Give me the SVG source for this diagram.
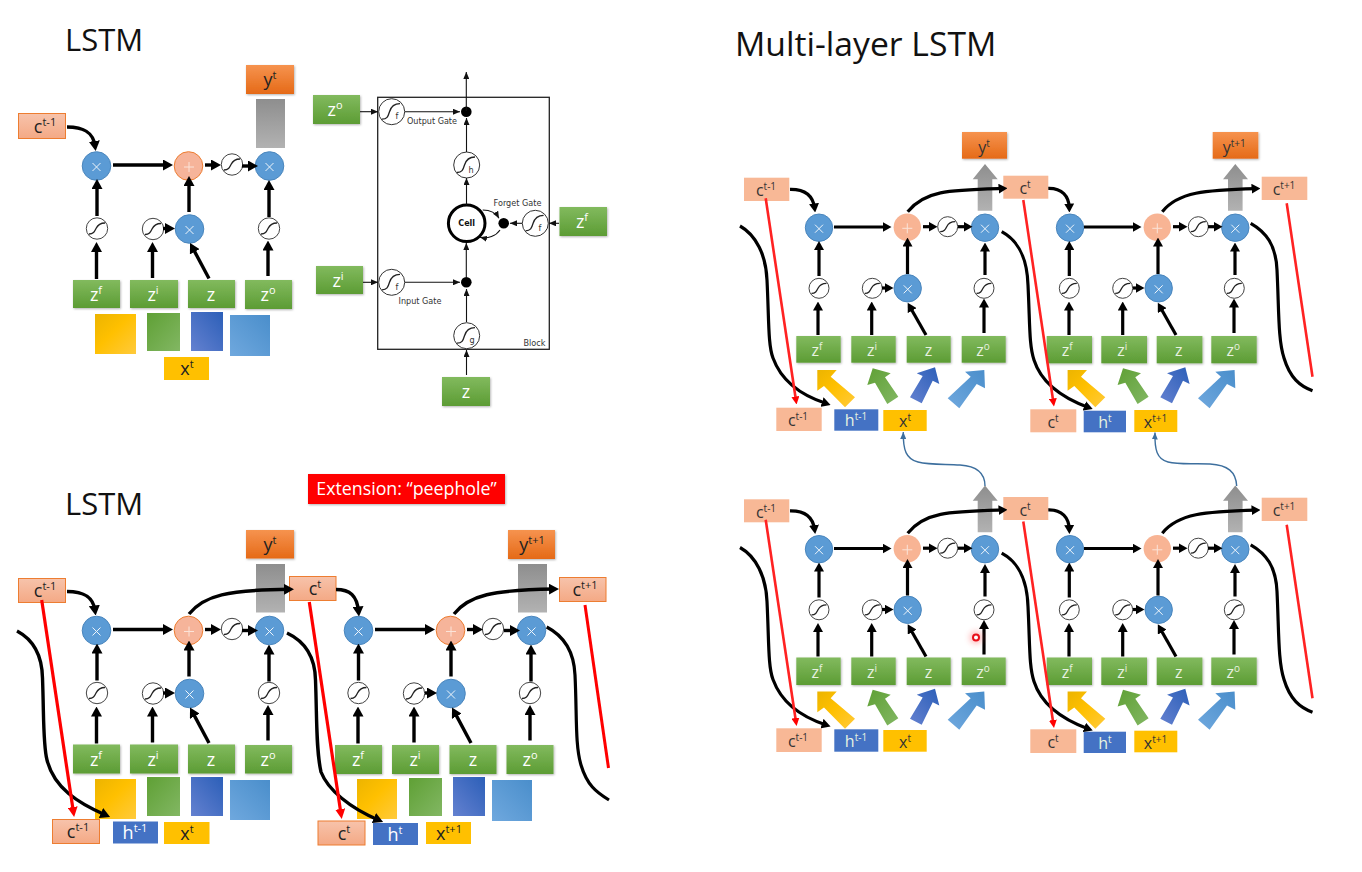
<svg xmlns="http://www.w3.org/2000/svg" width="1362" height="872" viewBox="0 0 1362 872">
<style>
text{font-family:"Open Sans","Liberation Sans",sans-serif;text-anchor:middle}
.title{font-size:31px;fill:#111;text-anchor:start}
.d{font-size:18px;fill:#222}.w{font-size:18px;fill:#fff}
.r{font-size:16px;fill:#333}.rw{font-size:16px;fill:#e8f2e0}
.s{font-size:11px}.s2{font-size:10px}
.g{fill:url(#gG);filter:url(#sh)}.y{fill:url(#gO);filter:url(#sh)}
.c{fill:url(#gC);stroke:#ed7d31;stroke-width:1}.c2{fill:#f8b896}
.gr{fill:url(#gR)}.yl{fill:#ffc000}.h{fill:#4472c4}
.bl{fill:#5b9bd5;stroke:#4a86bd;stroke-width:1}.pl{fill:#f6b49a;stroke:#ed7d31;stroke-width:1}.pl2{fill:#f8b494}
.sg{fill:#fff;stroke:#444;stroke-width:1}
.sc{fill:none;stroke:#222;stroke-width:1.3}
.g1{fill:url(#g1)}.g2{fill:url(#g2)}.g3{fill:url(#g3)}.g4{fill:url(#g4)}
.a{fill:none;stroke:#000;stroke-width:3.4;marker-end:url(#h)}
.a2{fill:none;stroke:#000;stroke-width:3.2;marker-end:url(#h2)}
.sl{fill:none;stroke:#000;stroke-width:3.2}
.re{fill:none;stroke:#f00;stroke-width:3.2;marker-end:url(#hr)}
.re2{fill:none;stroke:#f22;stroke-width:2.6;marker-end:url(#hr2)}
.ren{fill:none;stroke:#f00;stroke-width:3}
.t{fill:none;stroke:#111;stroke-width:1.1;marker-end:url(#ht)}
.bu{fill:none;stroke:#3d6f9e;stroke-width:1.4;marker-end:url(#hb)}
.lb{font-family:"DejaVu Sans",sans-serif;font-size:8.1px;fill:#333}
</style>
<defs>
<marker id="h" markerUnits="userSpaceOnUse" viewBox="0 0 10 10" markerWidth="10" markerHeight="11" refX="5" refY="5" orient="auto" preserveAspectRatio="none"><path d="M0 0L10 5L0 10z"/></marker>
<marker id="h2" markerUnits="userSpaceOnUse" viewBox="0 0 10 10" markerWidth="9" markerHeight="10" refX="5" refY="5" orient="auto" preserveAspectRatio="none"><path d="M0 0L10 5L0 10z"/></marker>
<marker id="hr" markerUnits="userSpaceOnUse" viewBox="0 0 10 10" markerWidth="10" markerHeight="10" refX="5" refY="5" orient="auto" preserveAspectRatio="none"><path d="M0 0L10 5L0 10z" fill="#f00"/></marker>
<marker id="hr2" markerUnits="userSpaceOnUse" viewBox="0 0 10 10" markerWidth="8" markerHeight="8" refX="5" refY="5" orient="auto" preserveAspectRatio="none"><path d="M0 0L10 5L0 10z" fill="#f00"/></marker>
<marker id="ht" markerUnits="userSpaceOnUse" viewBox="0 0 10 10" markerWidth="7" markerHeight="6" refX="10" refY="5" orient="auto" preserveAspectRatio="none"><path d="M0 0L10 5L0 10z" fill="#111"/></marker>
<marker id="hb" markerUnits="userSpaceOnUse" viewBox="0 0 10 10" markerWidth="7" markerHeight="6" refX="10" refY="5" orient="auto" preserveAspectRatio="none"><path d="M0 0L10 5L0 10z" fill="#3d6f9e"/></marker>
<linearGradient id="gG" x1="0" y1="0" x2="0" y2="1"><stop offset="0" stop-color="#82ba5e"/><stop offset="1" stop-color="#5c9c34"/></linearGradient>
<linearGradient id="gO" x1="0" y1="0" x2="0" y2="1"><stop offset="0" stop-color="#f6934f"/><stop offset="1" stop-color="#e56a17"/></linearGradient>
<linearGradient id="gC" x1="0" y1="0" x2="0" y2="1"><stop offset="0" stop-color="#f7c3ab"/><stop offset="1" stop-color="#f4a985"/></linearGradient>
<linearGradient id="gR" x1="0" y1="0" x2="0" y2="1"><stop offset="0" stop-color="#8e8e8e"/><stop offset="1" stop-color="#b2b2b2"/></linearGradient>
<linearGradient id="g1" x1="0" y1="0" x2="1" y2="1"><stop offset="0" stop-color="#ecb400"/><stop offset=".45" stop-color="#ffc000"/><stop offset="1" stop-color="#ffca3c"/></linearGradient>
<linearGradient id="g2" x1="0" y1="0" x2="1" y2="1"><stop offset="0" stop-color="#5fa035"/><stop offset="1" stop-color="#82b763"/></linearGradient>
<linearGradient id="g3" x1="1" y1="0" x2="0" y2="1"><stop offset="0" stop-color="#2c5fb8"/><stop offset="1" stop-color="#6481d0"/></linearGradient>
<linearGradient id="g4" x1="1" y1="0" x2="0" y2="1"><stop offset="0" stop-color="#4a8ecb"/><stop offset="1" stop-color="#6fa8de"/></linearGradient>
<filter id="sh" x="-10%" y="-10%" width="125%" height="130%"><feDropShadow dx=".8" dy="1" stdDeviation=".9" flood-color="#000" flood-opacity=".3"/></filter>
<filter id="gl" x="-100%" y="-100%" width="300%" height="300%"><feGaussianBlur stdDeviation="3"/></filter>
<path id="sig" d="M-8 5.500C-3.500 5.500-2.500 3-1 0C.5-3 2.500-5.500 8-5.500" class="sc"/>
<path id="sig2" d="M-7.500 5C-3.500 5-2.500 3-1 0C.5-3 2.500-5 7.500-5" class="sc"/>
<path id="x" d="M-4-4L4 4M4-4L-4 4" fill="none" stroke="#eef5fb" stroke-width="1"/>
<path id="p" d="M-5 0H5M0-5V5" fill="none" stroke="#fbe3d8" stroke-width="1"/>
<path id="bs" d="M-8.500 7.500C-3.500 7.500-2.500 5-1 0C.5-5 3-8 9.500-8" fill="none" stroke="#222" stroke-width="1.300"/>
</defs>
<rect width="1362" height="872" fill="#fff"/>

<text id="title-1" class="title" x="65" y="51">LSTM</text>
<text id="title-2" class="title" x="65" y="515">LSTM</text>
<text id="title-3" class="title" x="735" y="56" style="font-size:33.7px">Multi-layer LSTM</text>
<g id="ext"><rect x="308" y="474" width="197" height="30" fill="#f00" filter="url(#sh)"/><text x="406.5" y="495" style="font-size:17.8px" fill="#fff">Extension: “peephole”</text></g>

<g id="block-1">
<g id="a-y"><rect class="y" x="246" y="65" width="48" height="29"/><text class="d" x="270" y="86">y<tspan class="s" dy="-7">t</tspan></text></g>
<rect id="a-gray" class="gr" x="256" y="99" width="29" height="49"/>
<g id="a-c"><rect class="c" x="18.500" y="113.500" width="47" height="25"/><text class="d" x="45" y="132.500">c<tspan class="s" dy="-7">t-1</tspan></text></g>
<g id="a-m1"><circle class="bl" cx="96.500" cy="166" r="14.300"/><use href="#x" x="96.500" y="167"/></g>
<g id="a-p"><circle class="pl" cx="188.500" cy="166" r="14.300"/><use href="#p" x="189" y="167"/></g>
<g id="a-s1"><circle class="sg" cx="232" cy="164.500" r="10.700"/><use href="#sig" x="232" y="164.500"/></g>
<g id="a-m2"><circle class="bl" cx="269.500" cy="166" r="14.300"/><use href="#x" x="269.500" y="167"/></g>
<g id="a-s2"><circle class="sg" cx="97" cy="228.500" r="10.700"/><use href="#sig" x="97" y="228.500"/></g>
<g id="a-s3"><circle class="sg" cx="153" cy="229" r="10.700"/><use href="#sig" x="153" y="229"/></g>
<g id="a-m3"><circle class="bl" cx="189.500" cy="229" r="14.300"/><use href="#x" x="189.500" y="230"/></g>
<g id="a-s4"><circle class="sg" cx="269" cy="228.500" r="10.700"/><use href="#sig" x="269" y="228.500"/></g>
<g id="a-zf"><rect class="g" x="73" y="280" width="47" height="28"/><text class="w" x="96" y="301">z<tspan class="s" dy="-7">f</tspan></text></g>
<g id="a-zi"><rect class="g" x="130" y="280" width="48" height="28"/><text class="w" x="153" y="301">z<tspan class="s" dy="-7">i</tspan></text></g>
<g id="a-z"><rect class="g" x="188" y="280" width="47" height="28"/><text class="w" x="211" y="301">z</text></g>
<g id="a-zo"><rect class="g" x="245" y="280" width="47" height="29"/><text class="w" x="268" y="301">z<tspan class="s" dy="-7">o</tspan></text></g>
<rect class="g1" x="95" y="314" width="41" height="40"/><rect class="g2" x="147" y="313" width="33" height="38"/><rect class="g3" x="191" y="312" width="32" height="39"/><rect class="g4" x="230" y="315" width="40" height="41"/>
<g id="a-x"><rect class="yl" x="164" y="357" width="45" height="23"/><text class="d" x="187" y="375" fill="#111">x<tspan class="s" dy="-7">t</tspan></text></g>
</g>

<g id="gate-block">
<rect x="377.700" y="97.300" width="171.600" height="252" fill="#fff" stroke="#222" stroke-width="1.300"/>
<g id="b-zo"><rect class="g" x="313" y="95" width="47" height="29"/><text class="w" x="335" y="116">z<tspan class="s" dy="-7">o</tspan></text></g>
<g id="b-zi"><rect class="g" x="316" y="266" width="47" height="28"/><text class="w" x="338" y="287">z<tspan class="s" dy="-7">i</tspan></text></g>
<g id="b-zf"><rect class="g" x="559.500" y="207" width="47.500" height="29"/><text class="w" x="582" y="228">z<tspan class="s" dy="-7">f</tspan></text></g>
<g id="b-z"><rect class="g" x="442" y="377" width="48" height="29"/><text class="w" x="466" y="398">z</text></g>
<g id="b-f1"><circle cx="391.700" cy="111.700" r="13" fill="#fff" stroke="#333" stroke-width="1"/><use href="#bs" x="390.500" y="111.700"/><text class="lb" x="397" y="119">f</text></g>
<g id="b-f2"><circle cx="391.700" cy="282.300" r="13" fill="#fff" stroke="#333" stroke-width="1"/><use href="#bs" x="390.500" y="282.300"/><text class="lb" x="397" y="290">f</text></g>
<g id="b-h"><circle cx="466.700" cy="165" r="13" fill="#fff" stroke="#333" stroke-width="1"/><use href="#bs" x="465.500" y="165"/><text class="lb" x="471" y="173">h</text></g>
<g id="b-g"><circle cx="466.700" cy="335.700" r="13" fill="#fff" stroke="#333" stroke-width="1"/><use href="#bs" x="465.500" y="335.700"/><text class="lb" x="472" y="343">g</text></g>
<g id="b-f3"><circle cx="535.300" cy="223.300" r="13" fill="#fff" stroke="#333" stroke-width="1"/><use href="#bs" x="534.100" y="223.300"/><text class="lb" x="540" y="231">f</text></g>
<g id="b-cell"><circle cx="466.700" cy="223.300" r="18.300" fill="#fff" stroke="#000" stroke-width="3"/><text class="lb" x="466.700" y="226" style="font-weight:bold;font-size:8px;fill:#111">Cell</text></g>
<circle id="b-d1" cx="466.300" cy="111.700" r="5.300" fill="#000"/>
<circle id="b-d2" cx="466.300" cy="282.300" r="5.300" fill="#000"/>
<circle id="b-d3" cx="503.700" cy="223.300" r="5.300" fill="#000"/>
<text class="lb" x="432" y="124">Output Gate</text>
<text class="lb" x="420" y="304">Input Gate</text>
<text class="lb" x="517.500" y="206">Forget Gate</text>
<text class="lb" x="534.500" y="346">Block</text>
</g>

<g id="block-2" transform="translate(0,464.500)">
<g id="c-y"><rect class="y" x="246" y="65.500" width="48" height="28.500"/><text class="d" x="270" y="86">y<tspan class="s" dy="-7">t</tspan></text></g>
<rect id="c-gray" class="gr" x="256" y="99.500" width="29" height="48.500"/>
<g id="c-m1"><circle class="bl" cx="96.500" cy="166" r="14.300"/><use href="#x" x="96.500" y="167"/></g>
<g id="c-p"><circle class="pl" cx="188.500" cy="166" r="14.300"/><use href="#p" x="189" y="167"/></g>
<g id="c-s1"><circle class="sg" cx="232" cy="164.500" r="10.700"/><use href="#sig" x="232" y="164.500"/></g>
<g id="c-m2"><circle class="bl" cx="269.500" cy="166" r="14.300"/><use href="#x" x="269.500" y="167"/></g>
<g id="c-s2"><circle class="sg" cx="97" cy="228.500" r="10.700"/><use href="#sig" x="97" y="228.500"/></g>
<g id="c-s3"><circle class="sg" cx="153" cy="229" r="10.700"/><use href="#sig" x="153" y="229"/></g>
<g id="c-m3"><circle class="bl" cx="189.500" cy="229" r="14.300"/><use href="#x" x="189.500" y="230"/></g>
<g id="c-s4"><circle class="sg" cx="269" cy="228.500" r="10.700"/><use href="#sig" x="269" y="228.500"/></g>
<g id="c-zf"><rect class="g" x="73" y="280" width="47" height="29"/><text class="w" x="96" y="301">z<tspan class="s" dy="-7">f</tspan></text></g>
<g id="c-zi"><rect class="g" x="130" y="280" width="48" height="29"/><text class="w" x="153" y="301">z<tspan class="s" dy="-7">i</tspan></text></g>
<g id="c-z"><rect class="g" x="188" y="280" width="47" height="29"/><text class="w" x="211" y="301">z</text></g>
<g id="c-zo"><rect class="g" x="245" y="280.500" width="47" height="28.500"/><text class="w" x="268" y="301">z<tspan class="s" dy="-7">o</tspan></text></g>
<rect class="g1" x="95" y="314.500" width="41" height="40"/><rect class="g2" x="147" y="312.500" width="33" height="39"/><rect class="g3" x="191" y="312.500" width="32" height="39"/><rect class="g4" x="230" y="315.500" width="40" height="40"/>
</g>
<g id="block-3" transform="translate(262,464.500)">
<g id="d-y"><rect class="y" x="246" y="65.500" width="47" height="29"/><text class="d" x="270" y="86">y<tspan class="s" dy="-7">t+1</tspan></text></g>
<rect id="d-gray" class="gr" x="256" y="99.500" width="29" height="48.500"/>
<g id="d-m1"><circle class="bl" cx="96.500" cy="166" r="14.300"/><use href="#x" x="96.500" y="167"/></g>
<g id="d-p"><circle class="pl" cx="188.500" cy="166" r="14.300"/><use href="#p" x="189" y="167"/></g>
<g id="d-s1"><circle class="sg" cx="231" cy="164.500" r="10.700"/><use href="#sig" x="231" y="164.500"/></g>
<g id="d-m2"><circle class="bl" cx="269.500" cy="166" r="14.300"/><use href="#x" x="269.500" y="167"/></g>
<g id="d-s2"><circle class="sg" cx="96.500" cy="228.500" r="10.700"/><use href="#sig" x="96.500" y="228.500"/></g>
<g id="d-s3"><circle class="sg" cx="152" cy="229" r="10.700"/><use href="#sig" x="152" y="229"/></g>
<g id="d-m3"><circle class="bl" cx="189" cy="229" r="14.300"/><use href="#x" x="189" y="230"/></g>
<g id="d-s4"><circle class="sg" cx="268" cy="228.500" r="10.700"/><use href="#sig" x="268" y="228.500"/></g>
<g id="d-zf"><rect class="g" x="73" y="280.500" width="47" height="29"/><text class="w" x="96" y="301">z<tspan class="s" dy="-7">f</tspan></text></g>
<g id="d-zi"><rect class="g" x="130" y="280.500" width="47" height="29"/><text class="w" x="153" y="301">z<tspan class="s" dy="-7">i</tspan></text></g>
<g id="d-z"><rect class="g" x="187.500" y="280.500" width="47" height="29"/><text class="w" x="211" y="301">z</text></g>
<g id="d-zo"><rect class="g" x="244.500" y="280.500" width="47" height="29"/><text class="w" x="268" y="301">z<tspan class="s" dy="-7">o</tspan></text></g>
<rect class="g1" x="95" y="314.500" width="40" height="40"/><rect class="g2" x="147" y="313.500" width="33" height="38"/><rect class="g3" x="191" y="312.500" width="32" height="39"/><rect class="g4" x="230" y="315.500" width="40" height="41"/>
</g>
<g id="row-2">
<g id="e-c0"><rect class="c" x="18.500" y="578.500" width="47" height="24"/><text class="d" x="45" y="597">c<tspan class="s" dy="-7">t-1</tspan></text></g>
<g id="e-c1"><rect class="c" x="289.500" y="576.500" width="46.500" height="24"/><text class="d" x="315" y="595">c<tspan class="s" dy="-7">t</tspan></text></g>
<g id="e-c2"><rect class="c" x="559.500" y="577.500" width="46.500" height="24"/><text class="d" x="585" y="596">c<tspan class="s" dy="-7">t+1</tspan></text></g>
<g id="e-b1"><rect class="c" x="52.500" y="819.500" width="47" height="24"/><text class="d" x="78" y="838">c<tspan class="s" dy="-7">t-1</tspan></text></g>
<g id="e-h1"><rect class="h" x="113" y="821.500" width="45" height="22"/><text class="w" x="135" y="839" fill="#fff">h<tspan class="s" dy="-7">t-1</tspan></text></g>
<g id="e-x1"><rect class="yl" x="164" y="822" width="45.500" height="22"/><text class="d" x="187" y="840">x<tspan class="s" dy="-7">t</tspan></text></g>
<g id="e-b2"><rect class="c" x="318" y="821" width="47" height="24"/><text class="d" x="344" y="840">c<tspan class="s" dy="-7">t</tspan></text></g>
<g id="e-h2"><rect class="h" x="373" y="823" width="45" height="22"/><text class="w" x="395" y="841">h<tspan class="s" dy="-7">t</tspan></text></g>
<g id="e-x2"><rect class="yl" x="426" y="822" width="45" height="22"/><text class="d" x="449" y="840">x<tspan class="s" dy="-7">t+1</tspan></text></g>
</g>

<g id="layer-top-A">
<g id="f-y"><rect class="y" x="962" y="132" width="45" height="26.700"/><text class="r" x="984" y="153">y<tspan class="s2" dy="-6">t</tspan></text></g>
<path class="gr" d="M977.700 210.700V179.300H972.700L985 164L997.700 179.300H992.300V210.700Z"/>
<g id="f-m1"><circle class="bl" cx="819" cy="227.700" r="13.700"/><use href="#x" x="819" y="228.700"/></g>
<g id="f-p"><circle class="pl2" cx="907.300" cy="227.300" r="13.700"/><use href="#p" x="907.300" y="228.300"/></g>
<g id="f-s1"><circle class="sg" cx="947.700" cy="226.700" r="10"/><use href="#sig2" x="947.700" y="226.700"/></g>
<g id="f-m2"><circle class="bl" cx="985" cy="227.700" r="13.700"/><use href="#x" x="985" y="228.700"/></g>
<g id="f-s2"><circle class="sg" cx="819" cy="288.300" r="10"/><use href="#sig2" x="819" y="288.300"/></g>
<g id="f-s3"><circle class="sg" cx="872.300" cy="288.300" r="10"/><use href="#sig2" x="872.300" y="288.300"/></g>
<g id="f-m3"><circle class="bl" cx="907.700" cy="288.300" r="13.700"/><use href="#x" x="907.700" y="289.300"/></g>
<g id="f-s4"><circle class="sg" cx="984" cy="288.300" r="10"/><use href="#sig2" x="984" y="288.300"/></g>
<g id="f-zf"><rect class="g" x="796.300" y="336" width="44.400" height="26.700"/><text class="rw" x="817" y="356">z<tspan class="s2" dy="-6">f</tspan></text></g>
<g id="f-zi"><rect class="g" x="851.300" y="336" width="44.400" height="26.700"/><text class="rw" x="872" y="356">z<tspan class="s2" dy="-6">i</tspan></text></g>
<g id="f-z"><rect class="g" x="906.700" y="336" width="44" height="26.700"/><text class="rw" x="928.500" y="356">z</text></g>
<g id="f-zo"><rect class="g" x="961.700" y="336" width="44" height="26.700"/><text class="rw" x="983" y="356">z<tspan class="s2" dy="-6">o</tspan></text></g>
<polygon class="g1" points="817.300,370 836.700,370 830.700,376.700 855,397.300 845,407.300 824,386 817.300,390.700"/>
<polygon class="g2" points="872.700,368.300 890.700,373.300 885,377.300 898.300,396.700 887.300,404 875,382.700 867.300,385"/>
<polygon class="g3" points="935,367.300 939.300,384 932.700,380.700 921.700,403.300 910,397.300 922.700,376 916.700,373.300"/>
<polygon class="g4" points="984.300,370 985,388.300 976.700,384 959.300,408.300 947.700,398.300 970.700,376.700 965,371.700"/>
</g>
<g id="layer-top-B" transform="translate(250.300,0)">
<g id="g-y"><rect class="y" x="962.400" y="132" width="45.600" height="26.700"/><text class="r" x="984" y="153">y<tspan class="s2" dy="-6">t+1</tspan></text></g>
<path class="gr" d="M977.700 210.700V179.300H972.700L985 164L997.700 179.300H992.300V210.700Z"/>
<g id="g-m1"><circle class="bl" cx="819.700" cy="227.700" r="13.700"/><use href="#x" x="819.700" y="228.700"/></g>
<g id="g-p"><circle class="pl2" cx="907" cy="227.300" r="13.700"/><use href="#p" x="907" y="228.300"/></g>
<g id="g-s1"><circle class="sg" cx="948" cy="226.700" r="10"/><use href="#sig2" x="948" y="226.700"/></g>
<g id="g-m2"><circle class="bl" cx="985" cy="227.700" r="13.700"/><use href="#x" x="985" y="228.700"/></g>
<g id="g-s2"><circle class="sg" cx="819" cy="288.300" r="10"/><use href="#sig2" x="819" y="288.300"/></g>
<g id="g-s3"><circle class="sg" cx="872.400" cy="288.300" r="10"/><use href="#sig2" x="872.400" y="288.300"/></g>
<g id="g-m3"><circle class="bl" cx="908.400" cy="288.300" r="13.700"/><use href="#x" x="908.400" y="289.300"/></g>
<g id="g-s4"><circle class="sg" cx="984" cy="288.300" r="10"/><use href="#sig2" x="984" y="288.300"/></g>
<g id="g-zf"><rect class="g" x="796.400" y="336" width="45.300" height="27.300"/><text class="rw" x="817" y="356">z<tspan class="s2" dy="-6">f</tspan></text></g>
<g id="g-zi"><rect class="g" x="851" y="336" width="45.700" height="27.300"/><text class="rw" x="872" y="356">z<tspan class="s2" dy="-6">i</tspan></text></g>
<g id="g-z"><rect class="g" x="906.400" y="336" width="45.700" height="27.300"/><text class="rw" x="928.500" y="356">z</text></g>
<g id="g-zo"><rect class="g" x="961" y="336" width="45.400" height="27.300"/><text class="rw" x="983" y="356">z<tspan class="s2" dy="-6">o</tspan></text></g>
<polygon class="g1" points="817.300,370 836.700,370 830.700,376.700 855,397.300 845,407.300 824,386 817.300,390.700"/>
<polygon class="g2" points="872.700,368.300 890.700,373.300 885,377.300 898.300,396.700 887.300,404 875,382.700 867.300,385"/>
<polygon class="g3" points="935,367.300 939.300,384 932.700,380.700 921.700,403.300 910,397.300 922.700,376 916.700,373.300"/>
<polygon class="g4" points="984.300,370 985,388.300 976.700,384 959.300,408.300 947.700,398.300 970.700,376.700 965,371.700"/>
</g>
<g id="layer-low-A" transform="translate(0,321.500)">
<path class="gr" d="M977.700 210.700V179.300H972.700L985 164L997.700 179.300H992.300V210.700Z"/>
<g id="h-m1"><circle class="bl" cx="819" cy="227.700" r="13.700"/><use href="#x" x="819" y="228.700"/></g>
<g id="h-p"><circle class="pl2" cx="907.300" cy="227.300" r="13.700"/><use href="#p" x="907.300" y="228.300"/></g>
<g id="h-s1"><circle class="sg" cx="947.700" cy="226.700" r="10"/><use href="#sig2" x="947.700" y="226.700"/></g>
<g id="h-m2"><circle class="bl" cx="985" cy="227.700" r="13.700"/><use href="#x" x="985" y="228.700"/></g>
<g id="h-s2"><circle class="sg" cx="819" cy="288.300" r="10"/><use href="#sig2" x="819" y="288.300"/></g>
<g id="h-s3"><circle class="sg" cx="872.300" cy="288.300" r="10"/><use href="#sig2" x="872.300" y="288.300"/></g>
<g id="h-m3"><circle class="bl" cx="907.700" cy="288.300" r="13.700"/><use href="#x" x="907.700" y="289.300"/></g>
<g id="h-s4"><circle class="sg" cx="984" cy="288.300" r="10"/><use href="#sig2" x="984" y="288.300"/></g>
<g id="h-zf"><rect class="g" x="796.300" y="336" width="44.400" height="27.500"/><text class="rw" x="817" y="356">z<tspan class="s2" dy="-6">f</tspan></text></g>
<g id="h-zi"><rect class="g" x="851.300" y="336" width="44.400" height="27.500"/><text class="rw" x="872" y="356">z<tspan class="s2" dy="-6">i</tspan></text></g>
<g id="h-z"><rect class="g" x="906.700" y="336" width="44" height="27.500"/><text class="rw" x="928.500" y="356">z</text></g>
<g id="h-zo"><rect class="g" x="961.700" y="336" width="44" height="27.500"/><text class="rw" x="983" y="356">z<tspan class="s2" dy="-6">o</tspan></text></g>
<polygon class="g1" points="817.300,370 836.700,370 830.700,376.700 855,397.300 845,407.300 824,386 817.300,390.700"/>
<polygon class="g2" points="872.700,368.300 890.700,373.300 885,377.300 898.300,396.700 887.300,404 875,382.700 867.300,385"/>
<polygon class="g3" points="935,367.300 939.300,384 932.700,380.700 921.700,403.300 910,397.300 922.700,376 916.700,373.300"/>
<polygon class="g4" points="984.300,370 985,388.300 976.700,384 959.300,408.300 947.700,398.300 970.700,376.700 965,371.700"/>
</g>
<g id="layer-low-B" transform="translate(250.300,321.500)">
<path class="gr" d="M977.700 210.700V179.300H972.700L985 164L997.700 179.300H992.300V210.700Z"/>
<g id="i-m1"><circle class="bl" cx="819.700" cy="227.700" r="13.700"/><use href="#x" x="819.700" y="228.700"/></g>
<g id="i-p"><circle class="pl2" cx="907" cy="227.300" r="13.700"/><use href="#p" x="907" y="228.300"/></g>
<g id="i-s1"><circle class="sg" cx="948" cy="226.700" r="10"/><use href="#sig2" x="948" y="226.700"/></g>
<g id="i-m2"><circle class="bl" cx="985" cy="227.700" r="13.700"/><use href="#x" x="985" y="228.700"/></g>
<g id="i-s2"><circle class="sg" cx="819" cy="288.300" r="10"/><use href="#sig2" x="819" y="288.300"/></g>
<g id="i-s3"><circle class="sg" cx="872.400" cy="288.300" r="10"/><use href="#sig2" x="872.400" y="288.300"/></g>
<g id="i-m3"><circle class="bl" cx="908.400" cy="288.300" r="13.700"/><use href="#x" x="908.400" y="289.300"/></g>
<g id="i-s4"><circle class="sg" cx="984" cy="288.300" r="10"/><use href="#sig2" x="984" y="288.300"/></g>
<g id="i-zf"><rect class="g" x="796.400" y="336" width="45.300" height="27.500"/><text class="rw" x="817" y="356">z<tspan class="s2" dy="-6">f</tspan></text></g>
<g id="i-zi"><rect class="g" x="851" y="336" width="45.700" height="27.500"/><text class="rw" x="872" y="356">z<tspan class="s2" dy="-6">i</tspan></text></g>
<g id="i-z"><rect class="g" x="906.400" y="336" width="45.700" height="27.500"/><text class="rw" x="928.500" y="356">z</text></g>
<g id="i-zo"><rect class="g" x="961" y="336" width="45.400" height="27.500"/><text class="rw" x="983" y="356">z<tspan class="s2" dy="-6">o</tspan></text></g>
<polygon class="g1" points="817.300,370 836.700,370 830.700,376.700 855,397.300 845,407.300 824,386 817.300,390.700"/>
<polygon class="g2" points="872.700,368.300 890.700,373.300 885,377.300 898.300,396.700 887.300,404 875,382.700 867.300,385"/>
<polygon class="g3" points="935,367.300 939.300,384 932.700,380.700 921.700,403.300 910,397.300 922.700,376 916.700,373.300"/>
<polygon class="g4" points="984.300,370 985,388.300 976.700,384 959.300,408.300 947.700,398.300 970.700,376.700 965,371.700"/>
</g>
<g id="right-labels">
<g id="j-c0"><rect class="c2" x="744" y="177.700" width="45.300" height="23.300"/><text class="r" x="766" y="196">c<tspan class="s2" dy="-6">t-1</tspan></text></g>
<g id="j-c1"><rect class="c2" x="1003.300" y="175.700" width="45" height="23"/><text class="r" x="1025" y="194">c<tspan class="s2" dy="-6">t</tspan></text></g>
<g id="j-c2"><rect class="c2" x="1261.700" y="176.700" width="45.600" height="23.300"/><text class="r" x="1284" y="195">c<tspan class="s2" dy="-6">t+1</tspan></text></g>
<g id="j-b1"><rect class="c2" x="776.300" y="407.700" width="45.400" height="23.300"/><text class="r" x="798" y="426">c<tspan class="s2" dy="-6">t-1</tspan></text></g>
<g id="j-h1"><rect class="h" x="834.300" y="409.300" width="44" height="21.400"/><text class="rw" x="856" y="426" fill="#fff">h<tspan class="s2" dy="-6">t-1</tspan></text></g>
<g id="j-x1"><rect class="yl" x="883.300" y="410" width="43.400" height="21"/><text class="r" x="905" y="427">x<tspan class="s2" dy="-6">t</tspan></text></g>
<g id="j-b2"><rect class="c2" x="1030.300" y="409.300" width="46" height="23"/><text class="r" x="1053" y="428">c<tspan class="s2" dy="-6">t</tspan></text></g>
<g id="j-h2"><rect class="h" x="1083.700" y="410.700" width="42.300" height="21.600"/><text class="rw" x="1105" y="428">h<tspan class="s2" dy="-6">t</tspan></text></g>
<g id="j-x2"><rect class="yl" x="1134.300" y="410" width="43" height="22"/><text class="r" x="1155.500" y="428">x<tspan class="s2" dy="-6">t+1</tspan></text></g>
<g id="k-c0"><rect class="c2" x="744" y="499.300" width="45.300" height="23"/><text class="r" x="766" y="518">c<tspan class="s2" dy="-6">t-1</tspan></text></g>
<g id="k-c1"><rect class="c2" x="1003.300" y="497" width="45" height="23"/><text class="r" x="1025" y="516">c<tspan class="s2" dy="-6">t</tspan></text></g>
<g id="k-c2"><rect class="c2" x="1261.700" y="497.700" width="45.600" height="23.300"/><text class="r" x="1284" y="516">c<tspan class="s2" dy="-6">t+1</tspan></text></g>
<g id="k-b1"><rect class="c2" x="776.300" y="728.300" width="45.400" height="23.700"/><text class="r" x="798" y="747">c<tspan class="s2" dy="-6">t-1</tspan></text></g>
<g id="k-h1"><rect class="h" x="834.300" y="729.300" width="44" height="22.400"/><text class="rw" x="856" y="747">h<tspan class="s2" dy="-6">t-1</tspan></text></g>
<g id="k-x1"><rect class="yl" x="883.300" y="730" width="43.400" height="21.700"/><text class="r" x="905" y="748">x<tspan class="s2" dy="-6">t</tspan></text></g>
<g id="k-b2"><rect class="c2" x="1030.300" y="729.300" width="46" height="23.700"/><text class="r" x="1053" y="748">c<tspan class="s2" dy="-6">t</tspan></text></g>
<g id="k-h2"><rect class="h" x="1083.700" y="731.700" width="42.300" height="21.300"/><text class="rw" x="1105" y="749">h<tspan class="s2" dy="-6">t</tspan></text></g>
<g id="k-x2"><rect class="yl" x="1134.300" y="730.700" width="43" height="21.600"/><text class="r" x="1155.500" y="749">x<tspan class="s2" dy="-6">t+1</tspan></text></g>
</g>

<g id="connectors">
<g id="w-a">
<path class="a" d="M67 127C82 127 93 131 95 146"/>
<path class="a" d="M113 165H168"/><path class="a" d="M205 165H216"/><path class="a" d="M242 166H253"/>
<path class="a" d="M97 216V184"/><path class="a" d="M96.500 279V247"/><path class="a" d="M152.500 278V247"/>
<path class="a" d="M163 228.500H170"/><path class="a" d="M189 212V181"/><path class="a" d="M209 278.500L192.400 247.400"/>
<path class="a" d="M268 276V245.500"/><path class="a" d="M269 217V185"/>
</g>
<g id="w-c" transform="translate(0,464.500)">
<path class="a" d="M67 127C82 127 93 131 95 146"/>
<path class="a" d="M113 165H168"/><path class="a" d="M205 165H216"/><path class="a" d="M242 166H253"/>
<path class="a" d="M97 216V184"/><path class="a" d="M96.500 279V247"/><path class="a" d="M152.500 278V247"/>
<path class="a" d="M163 228.500H170"/><path class="a" d="M189 212V181"/><path class="a" d="M209 278.500L192.400 247.400"/>
<path class="a" d="M268 276V245.500"/><path class="a" d="M269 217V185"/>
</g>
<g id="w-d" transform="translate(262,464.500)">
<path class="a" d="M74 125C88 125 95 131 96.500 147"/>
<path class="a" d="M113 165H168"/><path class="a" d="M205 165H216"/><path class="a" d="M242 166H253"/>
<path class="a" d="M96.500 216V184"/><path class="a" d="M96 279V247"/><path class="a" d="M152 278V247"/>
<path class="a" d="M163 228.500H170"/><path class="a" d="M189 212V181"/><path class="a" d="M209 278.500L192.400 247.400"/>
<path class="a" d="M268 276V245.500"/><path class="a" d="M269 217V185"/>
</g>
<path class="a" d="M189 614C204 595 228 590 289 589.300"/>
<path class="a" d="M454 614C469 595 493 590 554 589"/>
<path class="a" d="M17 631C34 640 42 655 42.500 678C44 720 43 745 47 760C54 788 78 803 105.500 815"/>
<path class="a" d="M287 633C304 641 315 655 315.500 680C317 720 316 750 321 772C328 790 350 808 378.500 820"/>
<path class="sl" d="M546.700 627C564 636 574 652 575 675C577 715 575 745 581 765C587 785 596 792 609 800"/>
<path class="re" d="M41.700 600L73.400 812"/>
<path class="re" d="M309.300 602L341 814"/>
<path class="ren" d="M585 605L608.500 768"/>

<g id="arrow-block">
<path class="t" d="M466.300 111V72"/><path class="t" d="M466.500 152V118"/><path class="t" d="M466.500 205V178"/>
<path class="t" d="M466.300 277V243"/><path class="t" d="M466.500 322V289"/><path class="t" d="M466.500 375V350"/>
<path class="t" d="M360 111.700H378"/><path class="t" d="M405 111.700H460"/><path class="t" d="M363 282.300H378"/><path class="t" d="M405 282.300H460"/>
<path class="t" d="M559 223.300H549"/><path class="t" d="M522 223.300H510"/>
<path class="t" d="M482.700 210C491 210 496 213 499 218.300"/><path class="t" d="M500 230C496 236 488 239 480 237.300"/>
</g>

<g id="w-f">
<path class="a2" d="M790 189.300C805 189 813 196 814.600 208"/>
<path class="a2" d="M834 227H887"/><path class="a2" d="M923 226.700H933"/><path class="a2" d="M958 226.700H968"/>
<path class="a2" d="M819 276V245.500"/><path class="a2" d="M818 335V306"/><path class="a2" d="M871.700 335V306"/>
<path class="a2" d="M882 288H889"/><path class="a2" d="M907.500 274V242"/><path class="a2" d="M926 335L909.900 306.700"/>
<path class="a2" d="M984 333V303"/><path class="a2" d="M985 275V247"/>
<path class="a2" d="M907.700 211.700C925 190 950 190 1003 188.500"/>
<path class="a2" d="M740 226C756 235 766 255 767 280C769 320 768 345 773 358C781 380 800 395 826.300 403.500"/>
<path class="a2" d="M1001.700 231.700C1017 240 1027 255 1028 285C1030 325 1029 345 1034 360C1041 382 1060 397 1088.500 407.500"/>
<path class="re2" d="M765.700 198.300L796 400.500"/>
<path class="re2" d="M1023.300 200L1053.400 402.500"/>
</g>
<g id="w-g">
<path class="a2" d="M1048.300 188.300C1062 188 1069 196 1069.300 208"/>
<path class="a2" d="M1084 227H1137"/><path class="a2" d="M1173 226.700H1183"/><path class="a2" d="M1208 226.700H1218"/>
<path class="a2" d="M1069.300 276V245.500"/><path class="a2" d="M1069 335V306"/><path class="a2" d="M1122.700 335V306"/>
<path class="a2" d="M1133 288H1140"/><path class="a2" d="M1158 274V242"/><path class="a2" d="M1176 335L1160 306.700"/>
<path class="a2" d="M1234 333V303"/><path class="a2" d="M1235 275V247"/>
<path class="a2" d="M1162.300 211.700C1178 192 1205 190 1256 188.600"/>
<path class="sl" d="M1250.700 223.300C1266 232 1276 245 1277 270C1279 310 1278 340 1284 358C1290 378 1300 386 1312.500 390.700"/>
<path style="fill:none;stroke:#f22;stroke-width:2.600" d="M1286.700 203.300L1312.500 376.700"/>
</g>
<g id="w-h" transform="translate(0,321.500)">
<path class="a2" d="M790 189.300C805 189 813 196 814.600 208"/>
<path class="a2" d="M834 227H887"/><path class="a2" d="M923 226.700H933"/><path class="a2" d="M958 226.700H968"/>
<path class="a2" d="M819 276V245.500"/><path class="a2" d="M818 335V306"/><path class="a2" d="M871.700 335V306"/>
<path class="a2" d="M882 288H889"/><path class="a2" d="M907.500 274V242"/><path class="a2" d="M926 335L909.900 306.700"/>
<path class="a2" d="M984 333V303"/><path class="a2" d="M985 275V247"/>
<path class="a2" d="M907.700 211.700C925 190 950 190 1003 188.500"/>
<path class="a2" d="M740 226C756 235 766 255 767 280C769 320 768 345 773 358C781 380 800 395 826.300 403.500"/>
<path class="a2" d="M1001.700 231.700C1017 240 1027 255 1028 285C1030 325 1029 345 1034 360C1041 382 1060 397 1088.500 407.500"/>
<path class="re2" d="M765.700 198.300L796 400.500"/>
<path class="re2" d="M1023.300 200L1053.400 402.500"/>
</g>
<g id="w-i" transform="translate(0,321.500)">
<path class="a2" d="M1048.300 188.300C1062 188 1069 196 1069.300 208"/>
<path class="a2" d="M1084 227H1137"/><path class="a2" d="M1173 226.700H1183"/><path class="a2" d="M1208 226.700H1218"/>
<path class="a2" d="M1069.300 276V245.500"/><path class="a2" d="M1069 335V306"/><path class="a2" d="M1122.700 335V306"/>
<path class="a2" d="M1133 288H1140"/><path class="a2" d="M1158 274V242"/><path class="a2" d="M1176 335L1160 306.700"/>
<path class="a2" d="M1234 333V303"/><path class="a2" d="M1235 275V247"/>
<path class="a2" d="M1162.300 211.700C1178 192 1205 190 1256 188.600"/>
<path class="sl" d="M1250.700 223.300C1266 232 1276 245 1277 270C1279 310 1278 340 1284 358C1290 378 1300 386 1312.500 390.700"/>
<path style="fill:none;stroke:#f22;stroke-width:2.600" d="M1286.700 203.300L1312.500 376.700"/>
</g>
<path class="bu" d="M985 486C985 472 976 466 960 465C945 464 930 465 918 462C906 459 903 450 903.300 432"/>
<path class="bu" d="M1236.700 486C1236 472 1228 465 1210 464C1195 463 1180 465 1168 462C1157 459 1154.500 450 1155 432.500"/>
</g>
<g id="pointer"><circle cx="976" cy="637.500" r="6" fill="#f55" opacity=".45" filter="url(#gl)"/><circle cx="976" cy="637.500" r="3" fill="#fff" stroke="#e8101a" stroke-width="2"/></g>
</svg>
